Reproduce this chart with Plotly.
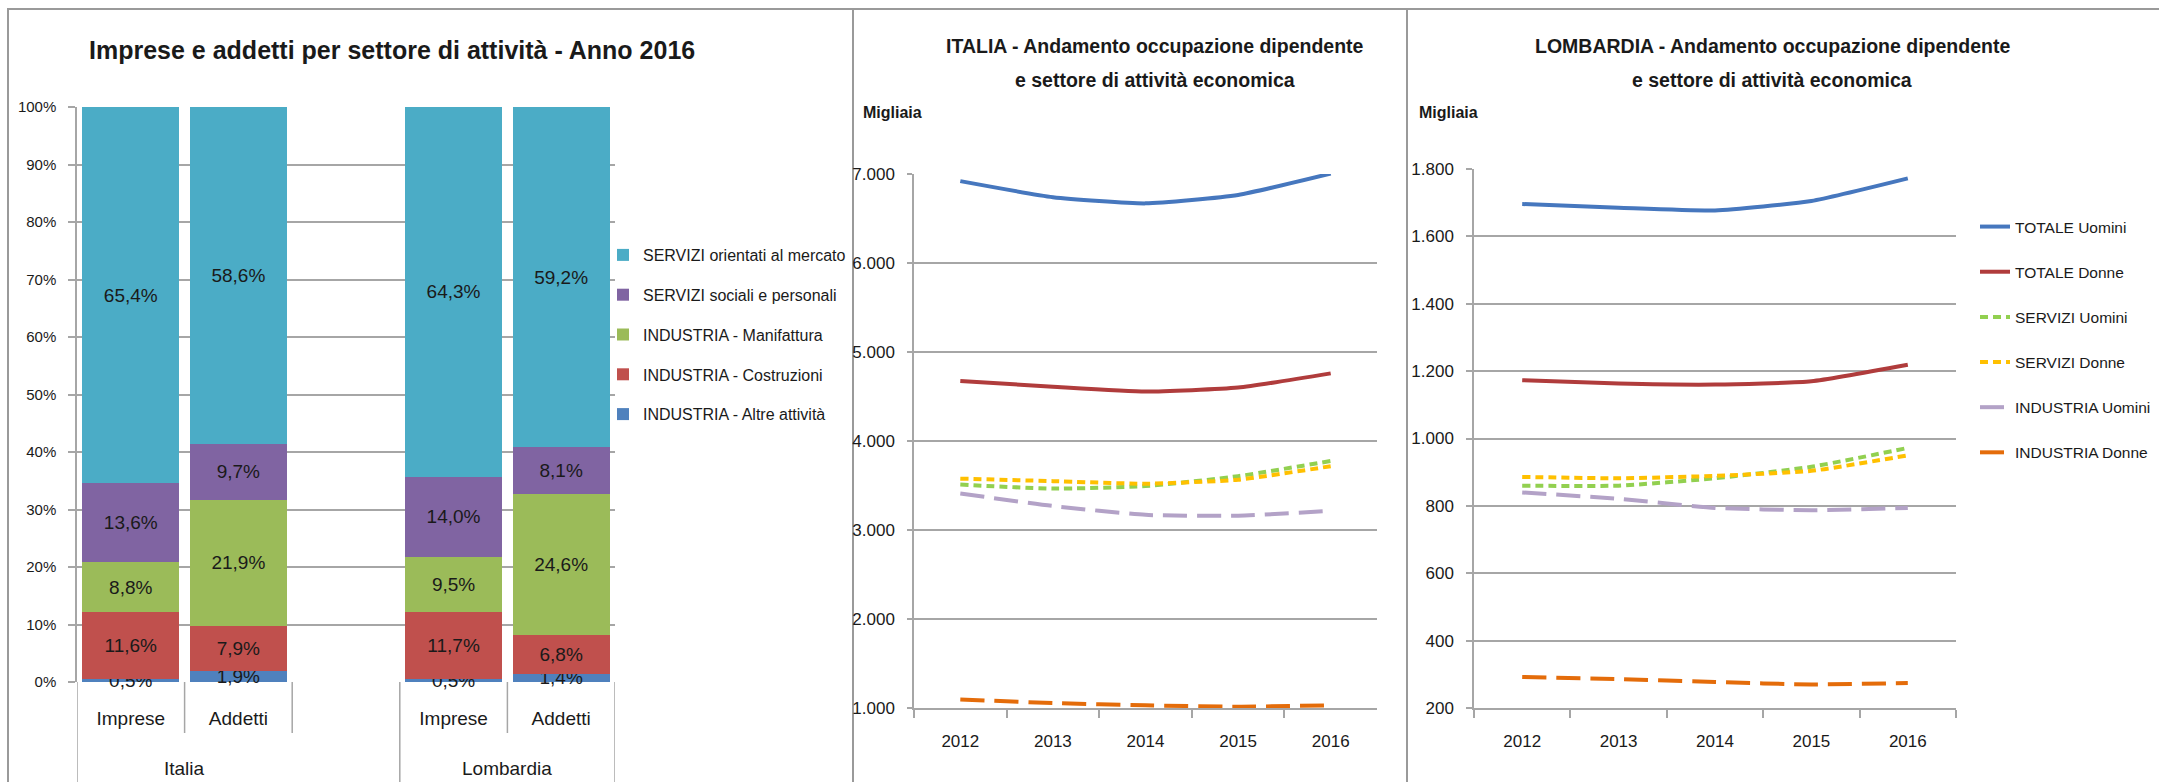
import plotly.graph_objects as go

# ---------------- DATA ----------------
GROUPS = ["Italia", "Lombardia"]
SUBCATS = ["Imprese", "Addetti"]

SECTORS = [
    "INDUSTRIA - Altre attività",
    "INDUSTRIA - Costruzioni",
    "INDUSTRIA - Manifattura",
    "SERVIZI sociali e personali",
    "SERVIZI orientati al mercato",
]
SECTOR_COLORS = ["#4F81BD", "#C0504D", "#9BBB59", "#8064A2", "#4BACC6"]

# values per bar: Italia Imprese, Italia Addetti, Lombardia Imprese, Lombardia Addetti
ALTRE = [0.5, 1.9, 0.5, 1.4]
COSTRUZIONI = [11.6, 7.9, 11.7, 6.8]
MANIFATTURA = [8.8, 21.9, 9.5, 24.6]
SOCIALI = [13.6, 9.7, 14.0, 8.1]
MERCATO = [65.4, 58.6, 64.3, 59.2]
SECTOR_VALUES = [ALTRE, COSTRUZIONI, MANIFATTURA, SOCIALI, MERCATO]

YEARS = ["2012", "2013", "2014", "2015", "2016"]
SERIES = ["TOTALE Uomini", "TOTALE Donne", "SERVIZI Uomini", "SERVIZI Donne",
          "INDUSTRIA Uomini", "INDUSTRIA Donne"]

IT_TOT_U = [6920, 6740, 6670, 6765, 7005]
IT_TOT_D = [4675, 4610, 4555, 4600, 4760]
IT_SER_U = [3510, 3465, 3493, 3605, 3775]
IT_SER_D = [3577, 3549, 3520, 3565, 3717]
IT_IND_U = [3410, 3270, 3170, 3160, 3215]
IT_IND_D = [1095, 1056, 1030, 1015, 1030]

LO_TOT_U = [1696, 1685, 1677, 1705, 1772]
LO_TOT_D = [1173, 1163, 1160, 1170, 1219]
LO_SER_U = [860, 860, 882, 916, 972]
LO_SER_D = [886, 882, 889, 904, 950]
LO_IND_U = [840, 821, 794, 787, 794]
LO_IND_D = [292, 286, 277, 270, 274]

ITALIA = [IT_TOT_U, IT_TOT_D, IT_SER_U, IT_SER_D, IT_IND_U, IT_IND_D]
LOMBARDIA = [LO_TOT_U, LO_TOT_D, LO_SER_U, LO_SER_D, LO_IND_U, LO_IND_D]

LINE_COLORS = ["#4677BE", "#B03C3C", "#92D050", "#FFC000", "#B3A2C7", "#E46C0A"]
LINE_DASH = ["solid", "solid", "8px,5px", "8px,5px", "24px,10px", "24px,10px"]

# ---------------- LAYOUT HELPERS ----------------
W, H = 2159, 782
FONT = "Liberation Sans, Arial, sans-serif"
GRID = "#A6A6A6"
TXT = "#1a1a1a"


def fx(p):
    return p / W


def fy(p):
    return 1 - p / H


fig = go.Figure()

# bar positions derived from group/sub-category structure (one empty slot between groups)
stride = len(SUBCATS) + 1
bar_x = [g * stride + i for g in range(len(GROUPS)) for i in range(len(SUBCATS))]
bar_labels = [s for g in GROUPS for s in SUBCATS]
n_slots = len(GROUPS) * stride - 1

for k, (name, color, vals) in enumerate(zip(SECTORS, SECTOR_COLORS, SECTOR_VALUES)):
    fig.add_trace(go.Bar(
        x=bar_x, y=vals, name=name, marker=dict(color=color, line=dict(width=0)),
        width=0.9, text=[f"{v:.1f}".replace(".", ",") + "%" for v in vals],
        textposition="inside", insidetextanchor="middle", textangle=0,
        textfont=dict(size=19, color=TXT, family=FONT), cliponaxis=False,
        xaxis="x", yaxis="y", legend="legend", legendgroup=name,
        legendrank=len(SECTORS) - k, hoverinfo="skip",
    ))

for k, (name, color, dash, it_vals, lo_vals) in enumerate(zip(SERIES, LINE_COLORS, LINE_DASH, ITALIA, LOMBARDIA)):
    fig.add_trace(go.Scatter(
        x=YEARS, y=it_vals, mode="lines", name=name,
        line=dict(color=color, width=4, dash=dash, shape="spline", smoothing=0.5),
        xaxis="x2", yaxis="y2", showlegend=False, hoverinfo="skip",
    ))
    fig.add_trace(go.Scatter(
        x=YEARS, y=lo_vals, mode="lines", name=name,
        line=dict(color=color, width=4, dash=dash, shape="spline", smoothing=0.5),
        xaxis="x3", yaxis="y3", legend="legend2", legendgroup=name,
        legendrank=k + 1, hoverinfo="skip",
    ))

line_axis = dict(showline=True, linecolor=GRID, linewidth=1.5, zeroline=False,
                 ticks="outside", tickcolor=GRID, tickwidth=1.5, automargin=False,
                 tickfont=dict(family=FONT, size=17, color=TXT))
grid = dict(gridcolor=GRID, gridwidth=1.5, showgrid=True)

fig.update_layout(
    width=W, height=H, autosize=False, margin=dict(l=0, r=0, t=0, b=0, pad=0, autoexpand=False),
    paper_bgcolor="white", plot_bgcolor="white",
    barmode="stack", barnorm="percent",
    separators=",.",
    uniformtext=dict(minsize=19, mode="show"),
    font=dict(family=FONT, color=TXT),
    showlegend=True,
    xaxis=dict(domain=[fx(77), fx(615)], range=[-0.5, n_slots - 0.5],
               tickvals=bar_x, ticktext=bar_labels, showgrid=False, showline=False,
               ticks="", ticklabelstandoff=23, zeroline=False, automargin=False,
               tickfont=dict(family=FONT, size=19, color=TXT)),
    yaxis=dict(domain=[fy(682), fy(107)], range=[0, 100], dtick=10, ticksuffix="%",
               ticklen=7, ticklabelstandoff=9, automargin=False,
               showline=True, linecolor=GRID, linewidth=1.5, zeroline=False,
               ticks="outside", tickcolor=GRID, tickwidth=1.5,
               tickfont=dict(family=FONT, size=15, color=TXT), **grid),
    xaxis2=dict(domain=[fx(914), fx(1377)], range=[-0.5, 4.5], type="category",
                tickson="boundaries", ticklen=8, showgrid=False, anchor="y2",
                ticklabelstandoff=17, **line_axis),
    yaxis2=dict(domain=[fy(708), fy(174)], range=[1000, 7000], dtick=1000,
                tickformat=",.0f", ticklen=5, ticklabelstandoff=9, anchor="x2",
                **line_axis, **grid),
    xaxis3=dict(domain=[fx(1474), fx(1956)], range=[-0.5, 4.5], type="category",
                tickson="boundaries", ticklen=8, showgrid=False, anchor="y3",
                ticklabelstandoff=17, **line_axis),
    yaxis3=dict(domain=[fy(708), fy(169)], range=[200, 1800], dtick=200,
                tickformat=",.0f", ticklen=6, ticklabelstandoff=9, anchor="x3",
                **line_axis, **grid),
    legend=dict(x=fx(603), y=fy(238), xanchor="left", yanchor="top",
                traceorder="grouped", tracegroupgap=16,
                font=dict(family=FONT, size=16, color=TXT), bgcolor="rgba(0,0,0,0)"),
    legend2=dict(x=fx(1975), y=fy(210), xanchor="left", yanchor="top",
                 traceorder="grouped", tracegroupgap=22,
                 font=dict(family=FONT, size=15.5, color=TXT), bgcolor="rgba(0,0,0,0)"),
)

# panel frames
for x0, x1 in [(8, 853), (853, 1407), (1407, W + 5)]:
    fig.add_shape(type="rect", xref="paper", yref="paper", x0=fx(x0), x1=fx(x1),
                  y0=-0.05, y1=fy(9), line=dict(color="#9A9A9A", width=2), layer="below")

# multi-level category table under the bar chart
group_ends = [g * stride + len(SUBCATS) - 0.5 for g in range(len(GROUPS))]
bounds_full = [-0.5] + group_ends[:-1] + [n_slots - 0.5]
bounds_full = [b if b == -0.5 or b == n_slots - 0.5 else b + 1 for b in bounds_full]
bounds_inner = sorted({g * stride + i + 0.5 for g in range(len(GROUPS)) for i in range(len(SUBCATS))}
                      - set(bounds_full))
for b in bounds_full:
    fig.add_shape(type="line", xref="x", yref="paper", x0=b, x1=b, y0=fy(H + 5), y1=fy(682),
                  line=dict(color=GRID, width=1.5))
for b in bounds_inner:
    fig.add_shape(type="line", xref="x", yref="paper", x0=b, x1=b, y0=fy(733), y1=fy(682),
                  line=dict(color=GRID, width=1.5))

for g, name in enumerate(GROUPS):
    fig.add_annotation(x=g * stride + (len(SUBCATS) - 1) / 2, y=fy(768), xref="x", yref="paper",
                       text=name, showarrow=False, xanchor="center", yanchor="middle",
                       font=dict(family=FONT, size=19, color=TXT))

# titles
fig.add_annotation(x=fx(392), y=fy(50), xref="paper", yref="paper", showarrow=False,
                   text="<b>Imprese e addetti per settore di attività - Anno 2016</b>",
                   font=dict(family=FONT, size=25, color=TXT), xanchor="center", yanchor="middle")
for xc, first in ((1155, "ITALIA"), (1772, "LOMBARDIA")):
    fig.add_annotation(x=fx(xc), y=fy(46), xref="paper", yref="paper", showarrow=False,
                       text=f"<b>{first} - Andamento occupazione dipendente</b>",
                       font=dict(family=FONT, size=19.5, color=TXT), xanchor="center", yanchor="middle")
    fig.add_annotation(x=fx(xc), y=fy(80), xref="paper", yref="paper", showarrow=False,
                       text="<b>e settore di attività economica</b>",
                       font=dict(family=FONT, size=19.5, color=TXT), xanchor="center", yanchor="middle")
for xp in (861, 1417):
    fig.add_annotation(x=fx(xp), y=fy(112), xref="paper", yref="paper", showarrow=False,
                       text="<b>Migliaia</b>", xanchor="left", yanchor="middle",
                       font=dict(family=FONT, size=16, color=TXT))

fig.write_html(
    "out.html",
    config={"displayModeBar": False, "responsive": False},
    post_script="document.body.style.margin='0';document.body.style.overflow='hidden';",
)
